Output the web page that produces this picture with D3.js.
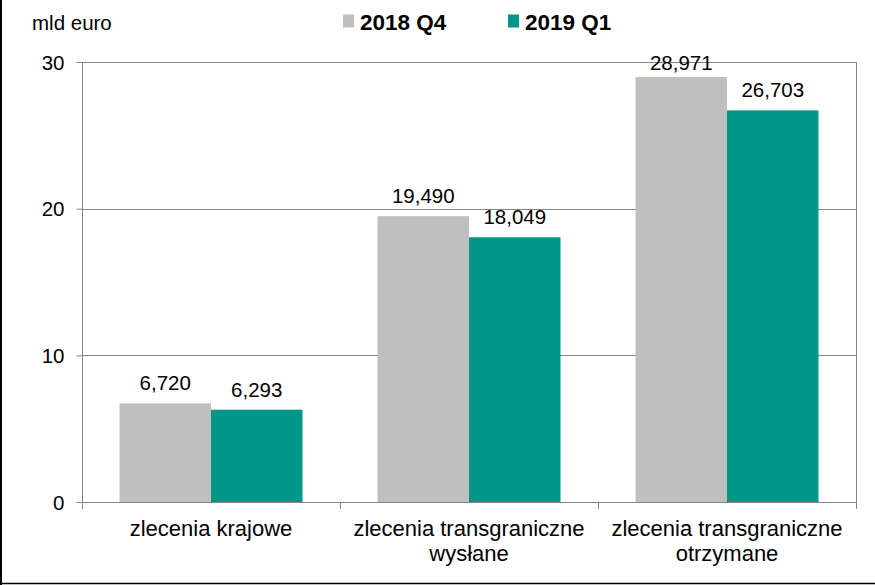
<!DOCTYPE html>
<html><head><meta charset="utf-8">
<script src="https://cdn.jsdelivr.net/npm/d3@7"></script>
<style>body{margin:0;background:#fff}svg{display:block;font-family:"Liberation Sans",Arial,sans-serif}</style>
</head><body>
<svg id="c" width="875" height="585"></svg>
<script>
const categories = [["zlecenia krajowe"],["zlecenia transgraniczne","wysłane"],["zlecenia transgraniczne","otrzymane"]];
const seriesNames = ["2018 Q4","2019 Q1"];
const q4_2018 = [6.720, 19.490, 28.971];
const q1_2019 = [6.293, 18.049, 26.703];
const yTicks = [0,10,20,30];
const colors = ["#bfbfbf","#009688"];

const svg = d3.select("#c");
const m = {l:82, r:856, t:62, b:502};
const x = d3.scaleBand().domain(d3.range(categories.length)).range([m.l,m.r]).paddingInner(0).paddingOuter(0);
const x1 = d3.scaleBand().domain([0,1]).range([0,x.bandwidth()]).paddingOuter(0.41).paddingInner(0);
const y = d3.scaleLinear().domain([0,30]).range([m.b,m.t]);

// outer frame (left & bottom visible)
svg.append("line").attr("x1",1).attr("x2",1).attr("y1",0).attr("y2",585).attr("stroke","#000").attr("stroke-width",2);
svg.append("line").attr("x1",0).attr("x2",875).attr("y1",583.5).attr("y2",583.5).attr("stroke","#000").attr("stroke-width",1.5);

// gridlines
svg.append("g").selectAll("line").data(yTicks.filter(d=>d>0)).join("line")
  .attr("x1",m.l).attr("x2",m.r).attr("y1",d=>Math.round(y(d))+0.5).attr("y2",d=>Math.round(y(d))+0.5)
  .attr("stroke","#868686").attr("stroke-width",1);
// right border
svg.append("line").attr("x1",m.r+0.5).attr("x2",m.r+0.5).attr("y1",m.t).attr("y2",m.b).attr("stroke","#868686");

// bars
const data = [q4_2018, q1_2019];
data.forEach((vals,si)=>{
  svg.append("g").selectAll("rect").data(vals).join("rect")
    .attr("x",(d,i)=>x(i)+x1(si)).attr("width",x1.bandwidth())
    .attr("y",d=>y(d)).attr("height",d=>y(0)-y(d)).attr("fill",colors[si]);
  svg.append("g").selectAll("text").data(vals).join("text")
    .attr("x",(d,i)=>x(i)+x1(si)+x1.bandwidth()/2).attr("y",d=>Math.max(y(d)-13, m.t+8))
    .attr("text-anchor","middle").attr("font-size",20.5).attr("fill","#000")
    .text(d=>d3.format(".3f")(d).replace(".",","));
});

// y axis
const ya = svg.append("g").attr("transform",`translate(${m.l+0.5},0)`)
  .call(d3.axisLeft(y).tickValues(yTicks).tickSize(6).tickPadding(12).tickFormat(d3.format("d")));
ya.select(".domain").attr("stroke","#868686").attr("d",`M0,${y(30)}V${y(0)+6}`);
ya.selectAll(".tick line").attr("stroke","#868686");
ya.selectAll(".tick text").attr("font-size",20.5).attr("fill","#000").attr("font-family","Liberation Sans, Arial, sans-serif").attr("dy","0.35em");

// x axis
const bounds = d3.range(categories.length+1).map(i=> i<categories.length ? x(i) : x(i-1)+x.bandwidth());
svg.append("line").attr("x1",m.l).attr("x2",m.r).attr("y1",m.b+0.5).attr("y2",m.b+0.5).attr("stroke","#868686");
svg.append("g").selectAll("line").data(bounds).join("line")
  .attr("x1",d=>Math.round(d)+0.5).attr("x2",d=>Math.round(d)+0.5).attr("y1",m.b).attr("y2",m.b+7).attr("stroke","#868686");
svg.append("g").selectAll("text").data(categories).join("text")
  .attr("x",(d,i)=>x(i)+x.bandwidth()/2).attr("y",536).attr("text-anchor","middle").attr("font-size",22).attr("fill","#000")
  .each(function(d){
    const t=d3.select(this);
    d.forEach((line,j)=>t.append("tspan").attr("x",t.attr("x")).attr("dy",j===0?0:24.5).text(line));
  });

// unit label
svg.append("text").attr("x",32).attr("y",30).attr("font-size",20.5).attr("fill","#000").text("mld euro");

// legend
const lg = [{x:343,tx:360},{x:508,tx:525}];
seriesNames.forEach((s,i)=>{
  svg.append("rect").attr("x",lg[i].x).attr("y",14.5).attr("width",11).attr("height",13).attr("fill",colors[i]);
  svg.append("text").attr("x",lg[i].tx).attr("y",30).attr("font-size",22.5).attr("font-weight","bold").attr("fill","#000").text(s);
});
</script>
</body></html>
